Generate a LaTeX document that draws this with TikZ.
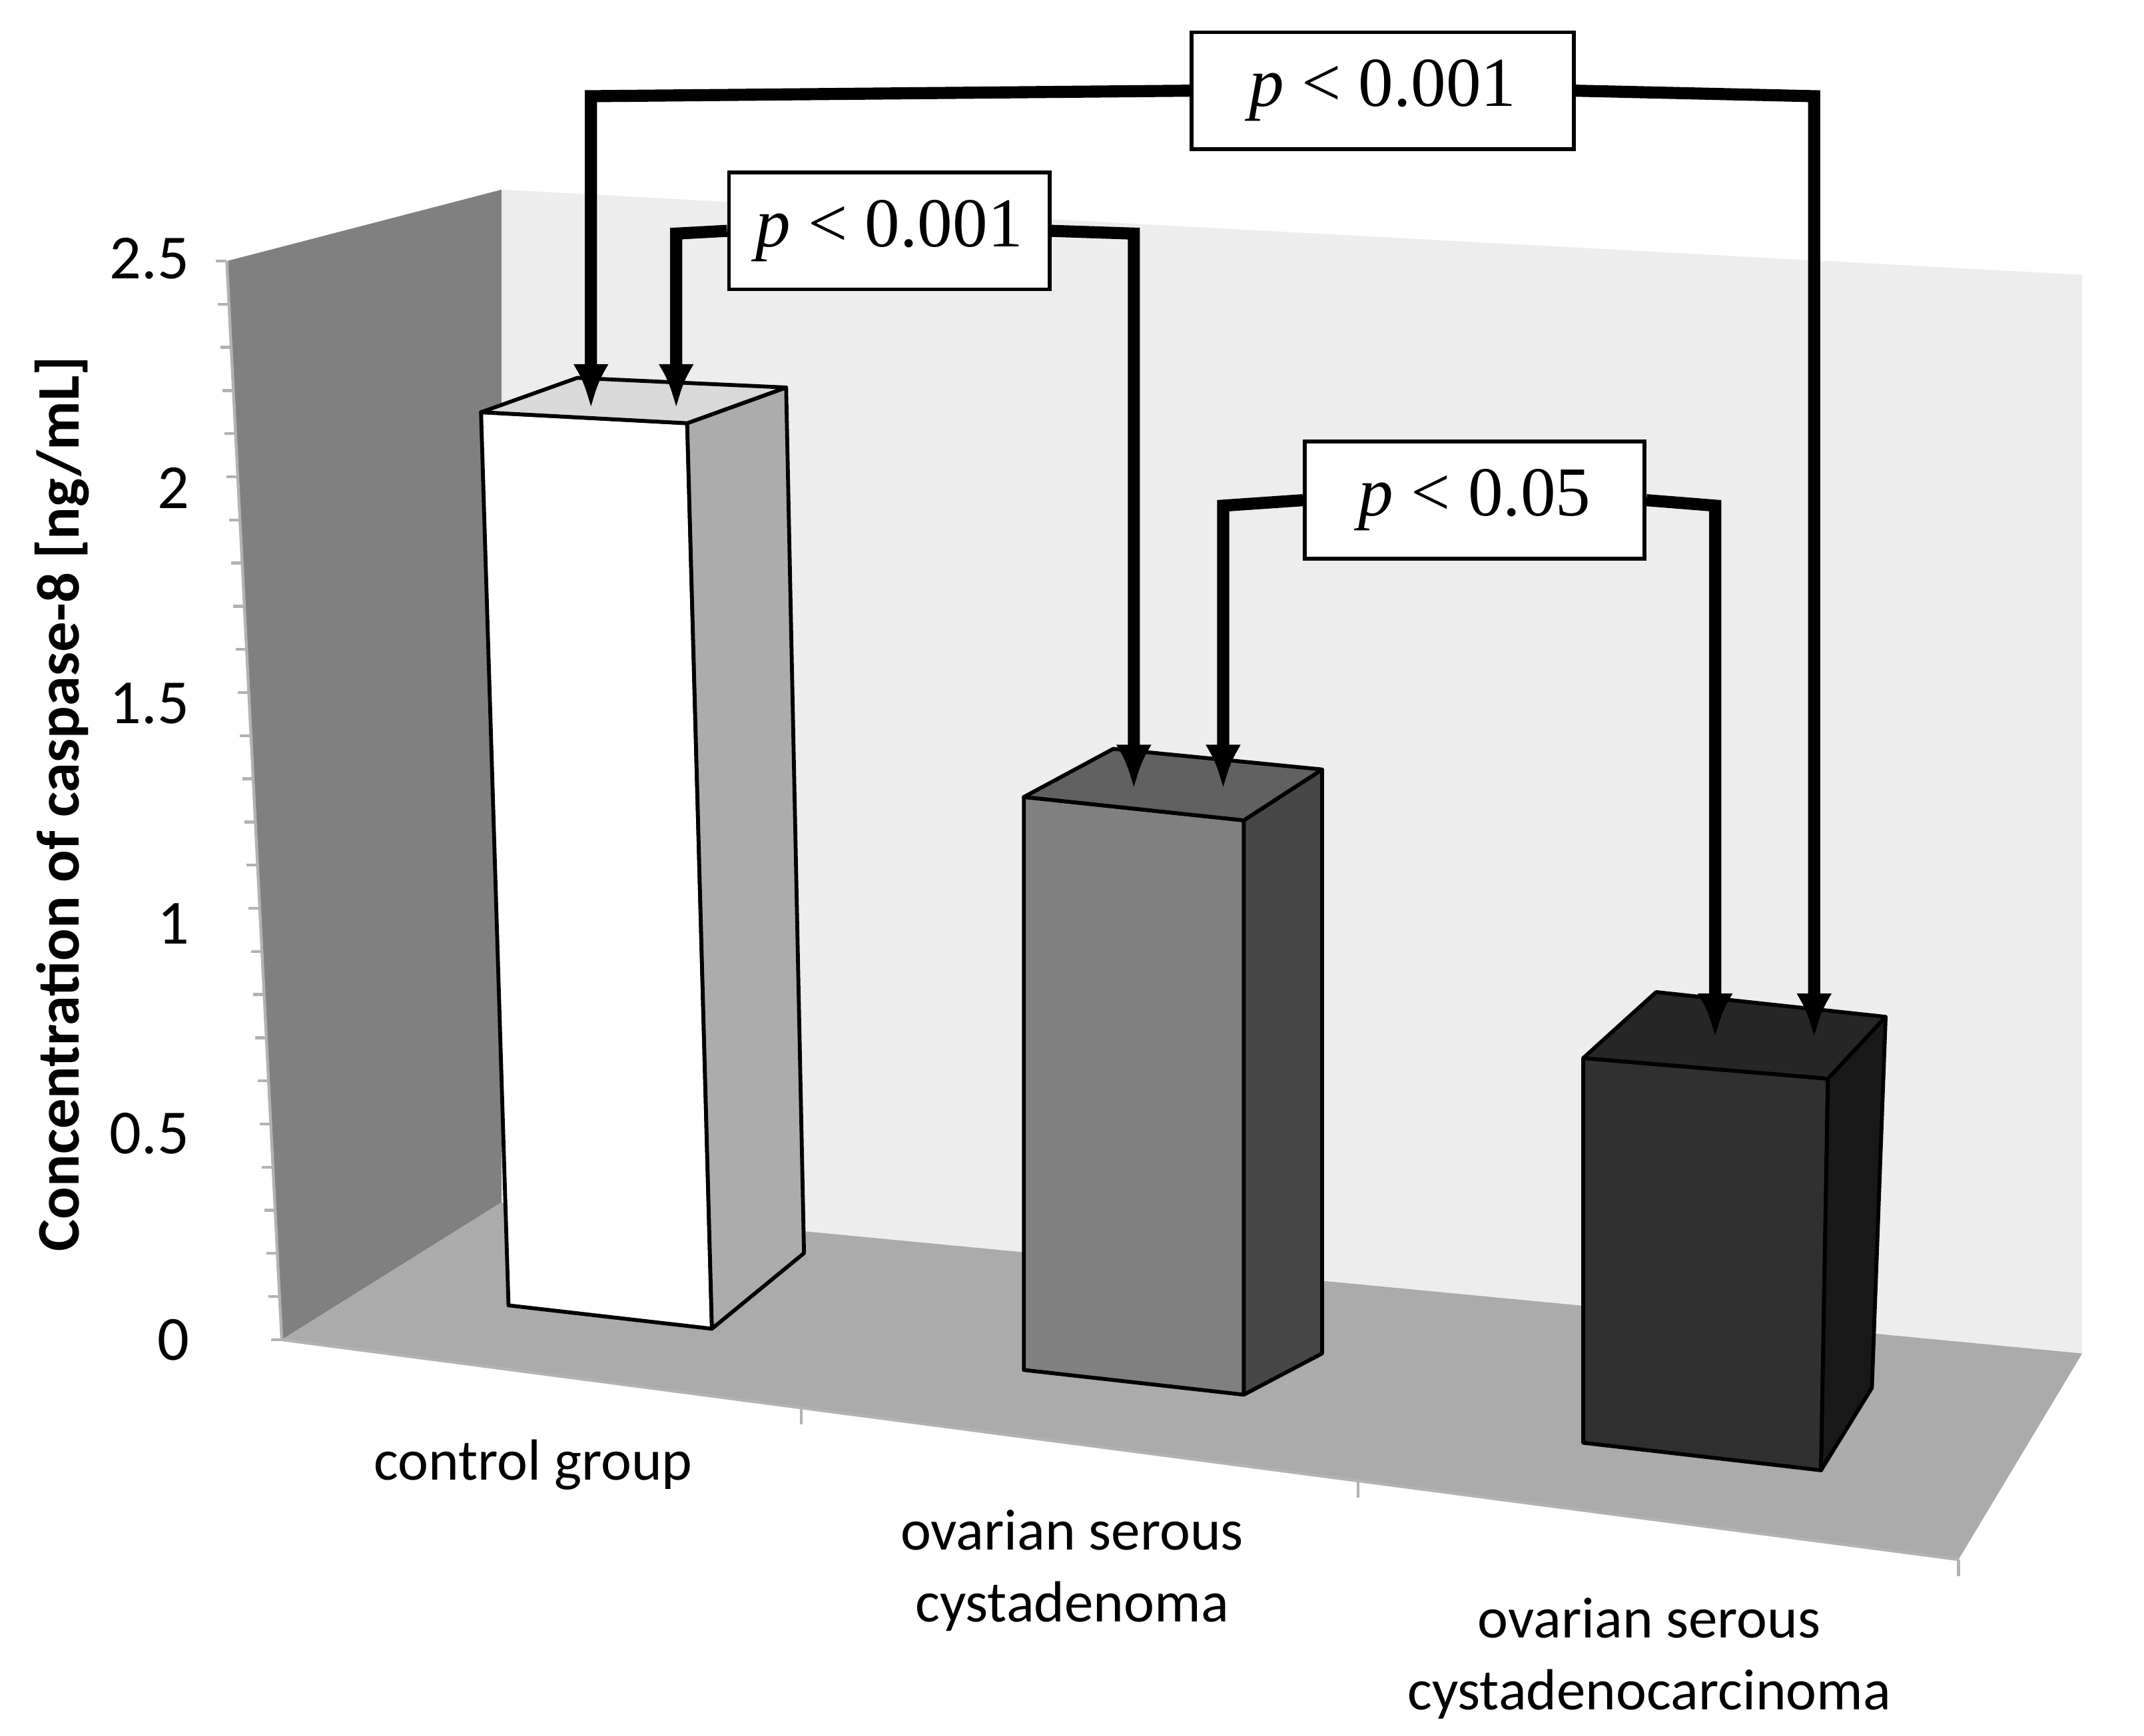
\documentclass[tikz,border=0pt]{standalone}
\usepackage{fontspec}
\setmainfont{Carlito}
\newfontfamily\pfont{Liberation Serif}
\usetikzlibrary{arrows.meta}
\definecolor{wallL}{gray}{0.50}
\definecolor{wallB}{gray}{0.93}
\definecolor{floorC}{gray}{0.67}
\tikzset{
  face/.style={draw=black, line width=0.8pt, line join=round},
  pbox/.style={draw=black, fill=white, line width=0.8pt, minimum width=2.33cm, minimum height=0.85cm, font=\pfont\fontsize{14.5}{15}\selectfont},
  bracket/.style={line width=2.5pt, -{Latex[length=0.32cm, width=0.26cm]}},
  cat/.style={font=\fontsize{12}{15}\selectfont, align=center}
}
\begin{document}
\begin{tikzpicture}[x=0.01cm, y=-0.01cm]
        \useasboundingbox (0,0) rectangle (1560,1263);

        % Walls and floor
        \fill[wallL] (165,190) -- (365,138) -- (365,875) -- (205,975) -- cycle;
        \fill[wallB] (365,138) -- (1515,200) -- (1515,985) -- (365,875) -- cycle;
        \fill[floorC] (205,975) -- (365,875) -- (1515,985) -- (1425,1135) -- cycle;

        % Axes
        \draw[gray!60, line width=0.6pt] (165,190) -- (205,975) -- (1425,1135);
        \foreach \t in {583,988,1425} {
            \pgfmathsetmacro{\ty}{975+(\t-205)*0.13115}
            \draw[gray!60, line width=0.6pt] (\t,\ty) -- (\t,\ty+12);
        }
        \foreach \k in {0,...,25} {
            \pgfmathsetmacro{\yy}{975-\k*31.4}
            \pgfmathsetmacro{\xx}{205-\k*1.6}
            \draw[gray!60, line width=0.6pt] (\xx,\yy) -- (\xx-8,\yy);
        }
        \foreach \v/\yy in {0/975,0.5/825,1/672,1.5/512,2/355,2.5/188}
            \node[anchor=east, font=\fontsize{13}{14}\selectfont] at (150,\yy) {\v};
        \node[rotate=90, font=\bfseries\fontsize{12.5}{14}\selectfont] (ylab) at (45,585) {Concentration of caspase-8 [ng/mL]};

        % Bars
        \fill[face, fill=white] (350,300) -- (500,308) -- (518,967) -- (370,950) -- cycle;
        \fill[face, fill=gray!65] (500,308) -- (572,282) -- (585,912) -- (518,967) -- cycle;
        \fill[face, fill=gray!30] (350,300) -- (420,275) -- (572,282) -- (500,308) -- cycle;

        \fill[face, fill=gray] (745,580) -- (905,597) -- (905,1015) -- (745,997) -- cycle;
        \fill[face, fill=black!72] (905,597) -- (962,560) -- (962,985) -- (905,1015) -- cycle;
        \fill[face, fill=black!62] (745,580) -- (810,545) -- (962,560) -- (905,597) -- cycle;

        \fill[face, fill=black!81] (1152,770) -- (1330,785) -- (1325,1070) -- (1152,1050) -- cycle;
        \fill[face, fill=black!90] (1330,785) -- (1372,740) -- (1362,1010) -- (1325,1070) -- cycle;
        \fill[face, fill=black!85] (1152,770) -- (1205,722) -- (1372,740) -- (1330,785) -- cycle;

        % Category labels
        \node[cat] (control) at (388,1066) {control group};
        \node[cat] (adenoma) at (780,1143) {ovarian serous\\cystadenoma};
        \node[cat] (carcinoma) at (1200,1207) {ovarian serous\\cystadenocarcinoma};

        % Significance brackets
        \coordinate (c1) at (430,297);
        \coordinate (c2) at (492,297);
        \coordinate (a1) at (825,574);
        \coordinate (a2) at (890,574);
        \coordinate (k1) at (1248,755);
        \coordinate (k2) at (1320,755);

        \node[pbox, minimum width=2.78cm] (ptop) at (1006,66) {\textit{p} < 0.001};
        \node[pbox] (pmid) at (647,168) {\textit{p} < 0.001};
        \node[pbox, minimum width=2.47cm] (plow) at (1073,364) {\textit{p} < 0.05};

        \draw[bracket] (ptop.west) -- (430,70) -- (c1);
        \draw[bracket] (ptop.east) -- (1320,70) -- (k2);
        \draw[bracket] (pmid.west) -- (492,170) -- (c2);
        \draw[bracket] (pmid.east) -- (825,170) -- (a1);
        \draw[bracket] (plow.west) -- (890,368) -- (a2);
        \draw[bracket] (plow.east) -- (1248,368) -- (k1);

    \end{tikzpicture}
\end{document}
